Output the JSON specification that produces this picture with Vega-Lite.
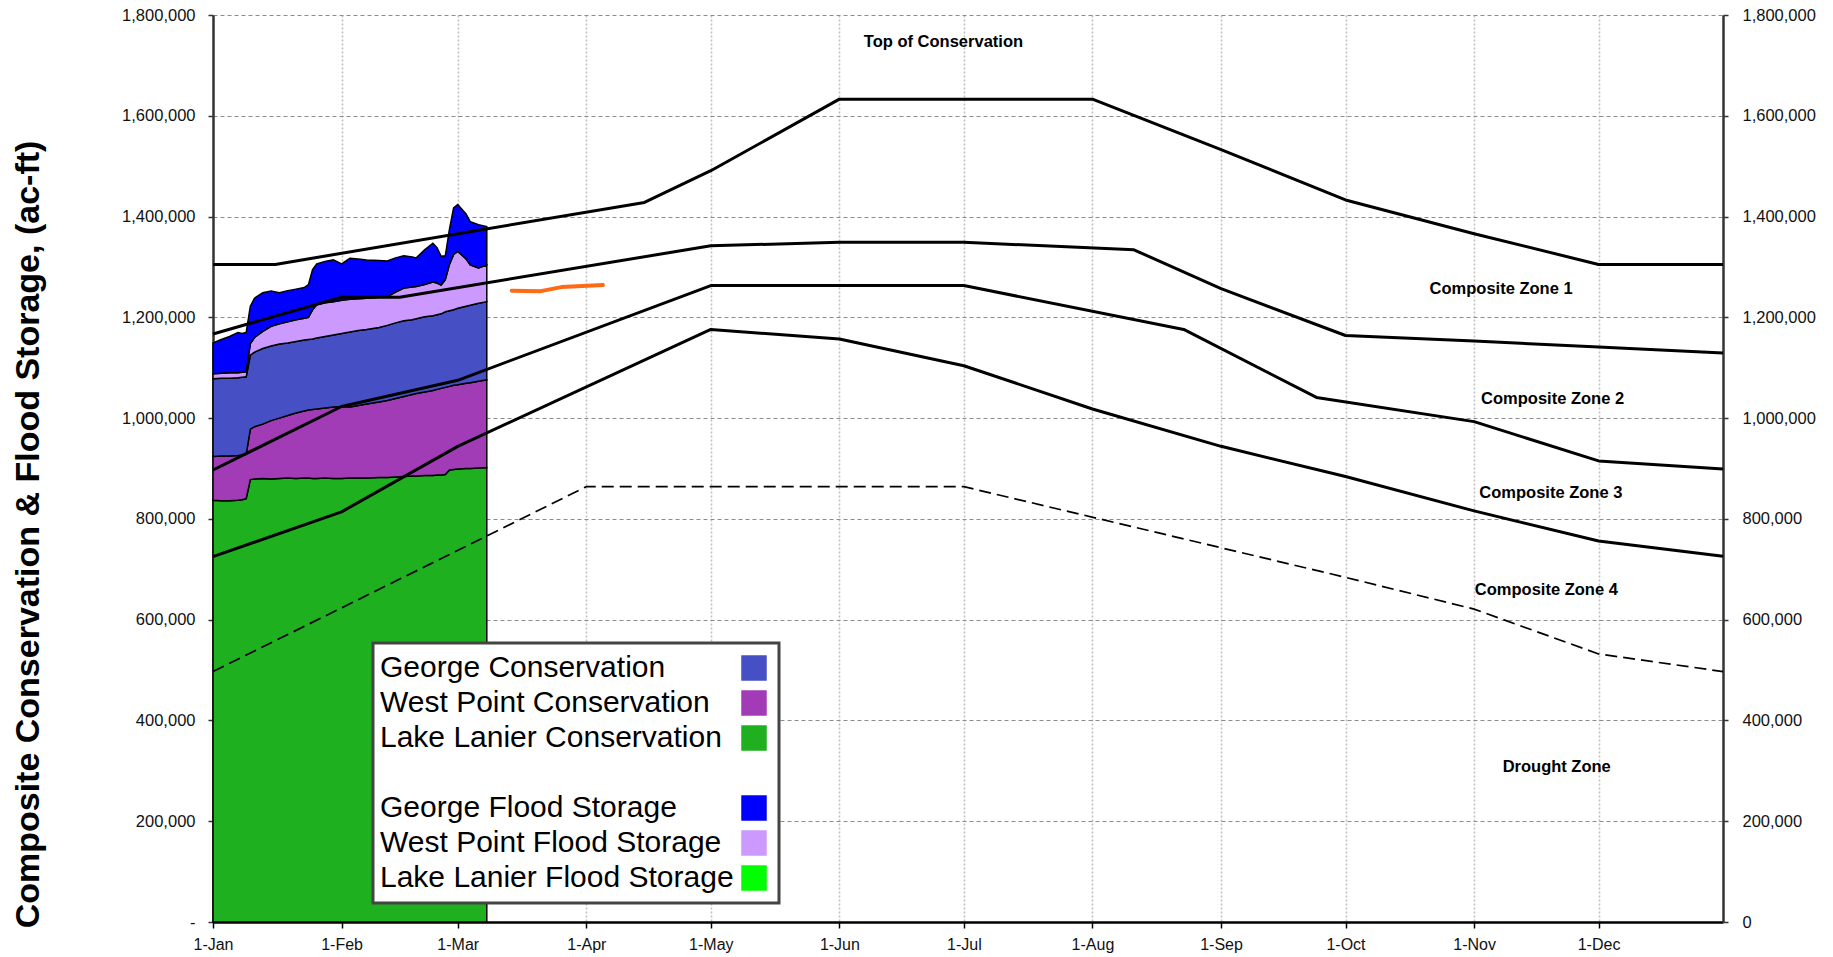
{
  "$schema": "https://vega.github.io/schema/vega-lite/v6.json",
  "width": 1510,
  "height": 907,
  "autosize": {"type": "none"},
  "padding": {"left": 213, "top": 15, "right": 110, "bottom": 35},
  "background": "white",
  "config": {
    "view": {"stroke": null},
    "font": "Liberation Sans"
  },
  "datasets": {
    "stackOrder": [
      {"series": "Lake Lanier Conservation", "rank": 1},
      {"series": "West Point Conservation", "rank": 2},
      {"series": "George Conservation", "rank": 3},
      {"series": "West Point Flood Storage", "rank": 4},
      {"series": "George Flood Storage", "rank": 5}
    ],
    "storage": [
      {"date": "2021-01-01", "Lake Lanier Conservation": 837000, "West Point Conservation": 87000, "George Conservation": 154000, "West Point Flood Storage": 10000, "George Flood Storage": 61000},
      {"date": "2021-01-03", "Lake Lanier Conservation": 836000, "West Point Conservation": 89000, "George Conservation": 154000, "West Point Flood Storage": 10000, "George Flood Storage": 67000},
      {"date": "2021-01-05", "Lake Lanier Conservation": 836000, "West Point Conservation": 89000, "George Conservation": 154000, "West Point Flood Storage": 11000, "George Flood Storage": 72000},
      {"date": "2021-01-07", "Lake Lanier Conservation": 837000, "West Point Conservation": 89000, "George Conservation": 154000, "West Point Flood Storage": 10000, "George Flood Storage": 80000},
      {"date": "2021-01-08", "Lake Lanier Conservation": 838000, "West Point Conservation": 89000, "George Conservation": 154000, "West Point Flood Storage": 10000, "George Flood Storage": 77000},
      {"date": "2021-01-09", "Lake Lanier Conservation": 840000, "West Point Conservation": 88000, "George Conservation": 154000, "West Point Flood Storage": 10000, "George Flood Storage": 78000},
      {"date": "2021-01-10", "Lake Lanier Conservation": 878000, "West Point Conservation": 100000, "George Conservation": 147000, "West Point Flood Storage": 23000, "George Flood Storage": 74000},
      {"date": "2021-01-11", "Lake Lanier Conservation": 879000, "West Point Conservation": 104000, "George Conservation": 148000, "West Point Flood Storage": 29000, "George Flood Storage": 78000},
      {"date": "2021-01-13", "Lake Lanier Conservation": 880000, "West Point Conservation": 108000, "George Conservation": 150000, "West Point Flood Storage": 34000, "George Flood Storage": 77000},
      {"date": "2021-01-15", "Lake Lanier Conservation": 879000, "West Point Conservation": 116000, "George Conservation": 148000, "West Point Flood Storage": 39000, "George Flood Storage": 70000},
      {"date": "2021-01-17", "Lake Lanier Conservation": 880000, "West Point Conservation": 120000, "George Conservation": 147000, "West Point Flood Storage": 40000, "George Flood Storage": 62000},
      {"date": "2021-01-19", "Lake Lanier Conservation": 881000, "West Point Conservation": 124000, "George Conservation": 144000, "West Point Flood Storage": 42000, "George Flood Storage": 62000},
      {"date": "2021-01-21", "Lake Lanier Conservation": 880000, "West Point Conservation": 130000, "George Conservation": 142000, "West Point Flood Storage": 43000, "George Flood Storage": 61000},
      {"date": "2021-01-23", "Lake Lanier Conservation": 881000, "West Point Conservation": 133000, "George Conservation": 141000, "West Point Flood Storage": 43000, "George Flood Storage": 61000},
      {"date": "2021-01-24", "Lake Lanier Conservation": 881000, "West Point Conservation": 135000, "George Conservation": 140000, "West Point Flood Storage": 44000, "George Flood Storage": 65000},
      {"date": "2021-01-25", "Lake Lanier Conservation": 880000, "West Point Conservation": 137000, "George Conservation": 140000, "West Point Flood Storage": 58000, "George Flood Storage": 80000},
      {"date": "2021-01-26", "Lake Lanier Conservation": 880000, "West Point Conservation": 138000, "George Conservation": 141000, "West Point Flood Storage": 66000, "George Flood Storage": 81000},
      {"date": "2021-01-28", "Lake Lanier Conservation": 881000, "West Point Conservation": 139000, "George Conservation": 142000, "West Point Flood Storage": 67000, "George Flood Storage": 82000},
      {"date": "2021-01-30", "Lake Lanier Conservation": 880000, "West Point Conservation": 142000, "George Conservation": 143000, "West Point Flood Storage": 66000, "George Flood Storage": 83000},
      {"date": "2021-02-01", "Lake Lanier Conservation": 880000, "West Point Conservation": 143000, "George Conservation": 145000, "West Point Flood Storage": 66000, "George Flood Storage": 72000},
      {"date": "2021-02-03", "Lake Lanier Conservation": 881000, "West Point Conservation": 141000, "George Conservation": 149000, "West Point Flood Storage": 65000, "George Flood Storage": 81000},
      {"date": "2021-02-05", "Lake Lanier Conservation": 881000, "West Point Conservation": 144000, "George Conservation": 149000, "West Point Flood Storage": 63000, "George Flood Storage": 79000},
      {"date": "2021-02-07", "Lake Lanier Conservation": 881000, "West Point Conservation": 147000, "George Conservation": 148000, "West Point Flood Storage": 62000, "George Flood Storage": 76000},
      {"date": "2021-02-10", "Lake Lanier Conservation": 882000, "West Point Conservation": 150000, "George Conservation": 148000, "West Point Flood Storage": 60000, "George Flood Storage": 73000},
      {"date": "2021-02-12", "Lake Lanier Conservation": 882000, "West Point Conservation": 153000, "George Conservation": 149000, "West Point Flood Storage": 57000, "George Flood Storage": 71000},
      {"date": "2021-02-14", "Lake Lanier Conservation": 883000, "West Point Conservation": 156000, "George Conservation": 150000, "West Point Flood Storage": 61000, "George Flood Storage": 68000},
      {"date": "2021-02-16", "Lake Lanier Conservation": 884000, "West Point Conservation": 159000, "George Conservation": 150000, "West Point Flood Storage": 65000, "George Flood Storage": 64000},
      {"date": "2021-02-18", "Lake Lanier Conservation": 885000, "West Point Conservation": 162000, "George Conservation": 148000, "West Point Flood Storage": 65000, "George Flood Storage": 60000},
      {"date": "2021-02-19", "Lake Lanier Conservation": 885000, "West Point Conservation": 164000, "George Conservation": 148000, "West Point Flood Storage": 64000, "George Flood Storage": 57000},
      {"date": "2021-02-21", "Lake Lanier Conservation": 886000, "West Point Conservation": 166000, "George Conservation": 149000, "West Point Flood Storage": 64000, "George Flood Storage": 69000},
      {"date": "2021-02-23", "Lake Lanier Conservation": 886000, "West Point Conservation": 169000, "George Conservation": 148000, "West Point Flood Storage": 67000, "George Flood Storage": 77000},
      {"date": "2021-02-24", "Lake Lanier Conservation": 887000, "West Point Conservation": 170000, "George Conservation": 148000, "West Point Flood Storage": 63000, "George Flood Storage": 70000},
      {"date": "2021-02-25", "Lake Lanier Conservation": 887000, "West Point Conservation": 172000, "George Conservation": 148000, "West Point Flood Storage": 57000, "George Flood Storage": 57000},
      {"date": "2021-02-26", "Lake Lanier Conservation": 888000, "West Point Conservation": 173000, "George Conservation": 150000, "West Point Flood Storage": 64000, "George Flood Storage": 47000},
      {"date": "2021-02-27", "Lake Lanier Conservation": 897000, "West Point Conservation": 166000, "George Conservation": 150000, "West Point Flood Storage": 92000, "George Flood Storage": 70000},
      {"date": "2021-02-28", "Lake Lanier Conservation": 898000, "West Point Conservation": 167000, "George Conservation": 150000, "West Point Flood Storage": 110000, "George Flood Storage": 92000},
      {"date": "2021-03-01", "Lake Lanier Conservation": 899000, "West Point Conservation": 167000, "George Conservation": 152000, "West Point Flood Storage": 113000, "George Flood Storage": 93000},
      {"date": "2021-03-03", "Lake Lanier Conservation": 900000, "West Point Conservation": 169000, "George Conservation": 153000, "West Point Flood Storage": 94000, "George Flood Storage": 89000},
      {"date": "2021-03-04", "Lake Lanier Conservation": 900000, "West Point Conservation": 170000, "George Conservation": 154000, "West Point Flood Storage": 80000, "George Flood Storage": 86000},
      {"date": "2021-03-06", "Lake Lanier Conservation": 901000, "West Point Conservation": 172000, "George Conservation": 155000, "West Point Flood Storage": 70000, "George Flood Storage": 86000},
      {"date": "2021-03-08", "Lake Lanier Conservation": 902000, "West Point Conservation": 174000, "George Conservation": 155000, "West Point Flood Storage": 73000, "George Flood Storage": 76000}
    ],
    "curves": [
      {"curve": "Top of Conservation", "date": "2021-01-01", "value": 1305000},
      {"curve": "Top of Conservation", "date": "2021-01-16", "value": 1305000},
      {"curve": "Top of Conservation", "date": "2021-04-15", "value": 1428000},
      {"curve": "Top of Conservation", "date": "2021-05-01", "value": 1491000},
      {"curve": "Top of Conservation", "date": "2021-06-01", "value": 1633000},
      {"curve": "Top of Conservation", "date": "2021-08-01", "value": 1633000},
      {"curve": "Top of Conservation", "date": "2021-09-01", "value": 1533000},
      {"curve": "Top of Conservation", "date": "2021-10-01", "value": 1433000},
      {"curve": "Top of Conservation", "date": "2021-11-01", "value": 1366000},
      {"curve": "Top of Conservation", "date": "2021-12-01", "value": 1305000},
      {"curve": "Top of Conservation", "date": "2021-12-31", "value": 1305000},
      {"curve": "Composite Zone 1", "date": "2021-01-01", "value": 1167000},
      {"curve": "Composite Zone 1", "date": "2021-02-01", "value": 1240000},
      {"curve": "Composite Zone 1", "date": "2021-02-15", "value": 1240000},
      {"curve": "Composite Zone 1", "date": "2021-05-01", "value": 1342000},
      {"curve": "Composite Zone 1", "date": "2021-06-01", "value": 1349000},
      {"curve": "Composite Zone 1", "date": "2021-07-01", "value": 1349000},
      {"curve": "Composite Zone 1", "date": "2021-08-11", "value": 1334000},
      {"curve": "Composite Zone 1", "date": "2021-09-01", "value": 1257000},
      {"curve": "Composite Zone 1", "date": "2021-10-01", "value": 1164000},
      {"curve": "Composite Zone 1", "date": "2021-11-01", "value": 1153000},
      {"curve": "Composite Zone 1", "date": "2021-12-01", "value": 1141000},
      {"curve": "Composite Zone 1", "date": "2021-12-31", "value": 1129000},
      {"curve": "Composite Zone 2", "date": "2021-01-01", "value": 897000},
      {"curve": "Composite Zone 2", "date": "2021-02-01", "value": 1023000},
      {"curve": "Composite Zone 2", "date": "2021-03-01", "value": 1075000},
      {"curve": "Composite Zone 2", "date": "2021-05-01", "value": 1263000},
      {"curve": "Composite Zone 2", "date": "2021-07-01", "value": 1263000},
      {"curve": "Composite Zone 2", "date": "2021-08-23", "value": 1176000},
      {"curve": "Composite Zone 2", "date": "2021-09-24", "value": 1041000},
      {"curve": "Composite Zone 2", "date": "2021-11-01", "value": 993000},
      {"curve": "Composite Zone 2", "date": "2021-12-01", "value": 915000},
      {"curve": "Composite Zone 2", "date": "2021-12-31", "value": 899000},
      {"curve": "Composite Zone 3", "date": "2021-01-01", "value": 725000},
      {"curve": "Composite Zone 3", "date": "2021-02-01", "value": 814000},
      {"curve": "Composite Zone 3", "date": "2021-03-01", "value": 944000},
      {"curve": "Composite Zone 3", "date": "2021-05-01", "value": 1176000},
      {"curve": "Composite Zone 3", "date": "2021-06-01", "value": 1157000},
      {"curve": "Composite Zone 3", "date": "2021-07-01", "value": 1104000},
      {"curve": "Composite Zone 3", "date": "2021-08-01", "value": 1018000},
      {"curve": "Composite Zone 3", "date": "2021-09-01", "value": 944000},
      {"curve": "Composite Zone 3", "date": "2021-10-01", "value": 884000},
      {"curve": "Composite Zone 3", "date": "2021-11-01", "value": 816000},
      {"curve": "Composite Zone 3", "date": "2021-12-01", "value": 756000},
      {"curve": "Composite Zone 3", "date": "2021-12-31", "value": 726000},
      {"curve": "Composite Zone 4", "date": "2021-01-01", "value": 497000},
      {"curve": "Composite Zone 4", "date": "2021-04-01", "value": 864000},
      {"curve": "Composite Zone 4", "date": "2021-07-01", "value": 864000},
      {"curve": "Composite Zone 4", "date": "2021-10-01", "value": 684000},
      {"curve": "Composite Zone 4", "date": "2021-11-01", "value": 621000},
      {"curve": "Composite Zone 4", "date": "2021-12-01", "value": 532000},
      {"curve": "Composite Zone 4", "date": "2021-12-31", "value": 497000}
    ],
    "forecast": [
      {"date": "2021-03-14", "value": 1253000},
      {"date": "2021-03-21", "value": 1252000},
      {"date": "2021-03-26", "value": 1260000},
      {"date": "2021-04-05", "value": 1264000}
    ],
    "labels": [
      {"label": "Top of Conservation", "date": "2021-06-26T02:00:00Z", "value": 1746600},
      {"label": "Composite Zone 1", "date": "2021-11-07T12:00:00Z", "value": 1257000},
      {"label": "Composite Zone 2", "date": "2021-11-19T22:00:00Z", "value": 1037000},
      {"label": "Composite Zone 3", "date": "2021-11-19T12:00:00Z", "value": 851000},
      {"label": "Composite Zone 4", "date": "2021-11-18T10:00:00Z", "value": 659000},
      {"label": "Drought Zone", "date": "2021-11-20T22:00:00Z", "value": 308000}
    ]
  },
  "layer": [
    {
      "data": {"name": "storage"},
      "transform": [
        {"fold": ["Lake Lanier Conservation", "West Point Conservation", "George Conservation", "West Point Flood Storage", "George Flood Storage"], "as": ["series", "storage"]},
        {"lookup": "series", "from": {"data": {"name": "stackOrder"}, "key": "series", "fields": ["rank"]}}
      ],
      "mark": {"type": "area", "stroke": "#000000", "strokeWidth": 1.5, "opacity": 1, "fillOpacity": 1, "interpolate": "linear"},
      "encoding": {
        "x": {
          "field": "date", "type": "temporal",
          "scale": {"type": "utc", "domain": [{"year": 2021, "month": 1, "date": 1, "utc": true}, {"year": 2021, "month": 12, "date": 31, "utc": true}], "nice": false},
          "axis": {
            "orient": "bottom", "title": null,
            "tickCount": {"interval": "month", "step": 1},
            "labelExpr": "utcFormat(datum.value, '%-d-%b')",
            "labelFont": "Liberation Sans", "labelFontSize": 16, "labelColor": "#111111",
            "labelFlush": false, "labelOverlap": false, "labelPadding": 8,
            "tickSize": 6, "tickColor": "#000000", "tickWidth": 1.5,
            "domainColor": "#000000", "domainWidth": 2.5,
            "grid": true, "gridColor": "#bdbdbd", "gridDash": [2, 2], "gridWidth": 1.5
          }
        },
        "y": {
          "field": "storage", "type": "quantitative", "stack": "zero",
          "scale": {"domain": [0, 1800000], "nice": false, "zero": true},
          "axis": {
            "orient": "left",
            "title": "Composite Conservation & Flood Storage, (ac-ft)",
            "values": [0, 200000, 400000, 600000, 800000, 1000000, 1200000, 1400000, 1600000, 1800000],
            "labelExpr": "datum.value === 0 ? '-\u00a0\u00a0' : format(datum.value, ',.0f')",
            "labelFont": "Liberation Sans", "labelFontSize": 16.5, "labelColor": "#111111",
            "labelPadding": 13, "labelFlush": false, "labelOverlap": false,
            "tickSize": 5, "tickColor": "#333333", "tickWidth": 1.5,
            "domainColor": "#333333", "domainWidth": 2.5,
            "grid": true, "gridColor": "#8c8c8c", "gridDash": [4, 3], "gridWidth": 1,
            "titleFont": "Liberation Sans", "titleFontSize": 34, "titleFontWeight": "bold", "titleColor": "#000000",
            "titleAngle": 270, "titleX": -175, "titleY": 519, "titleAlign": "center", "titleBaseline": "alphabetic"
          }
        },
        "color": {
          "field": "series", "type": "nominal",
          "scale": {
            "domain": ["George Conservation", "West Point Conservation", "Lake Lanier Conservation", " ", "George Flood Storage", "West Point Flood Storage", "Lake Lanier Flood Storage"],
            "range": ["#4650c4", "#a23cb6", "#1fb01f", "#ffffff", "#0000ff", "#cc99ff", "#00ff00"]
          },
          "legend": {
            "title": null, "orient": "none", "legendX": 160, "legendY": 628, "direction": "vertical",
            "symbolType": "square", "symbolSize": 650, "symbolStrokeColor": "#333333", "symbolStrokeWidth": 1, "symbolOpacity": 1,
            "symbolOffset": 356, "labelOffset": -389,
            "labelFont": "Liberation Sans", "labelFontSize": 30, "labelColor": "#000000", "labelLimit": 420,
            "rowPadding": 5, "padding": 10,
            "fillColor": "#ffffff", "strokeColor": "#444444",
            "encode": {
              "legend": {"update": {"strokeWidth": {"value": 3}}},
              "symbols": {"update": {
                "strokeOpacity": {"signal": "datum.value === ' ' ? 0 : 1"},
                "fill": {"signal": "datum.value === 'George Conservation' ? '#6a6cf2' : datum.value === 'West Point Conservation' ? '#b464c6' : datum.value === 'Lake Lanier Conservation' ? '#7ee67e' : datum.value === 'George Flood Storage' ? '#0000ff' : datum.value === 'West Point Flood Storage' ? '#cc99ff' : datum.value === 'Lake Lanier Flood Storage' ? '#00ff00' : '#ffffff'"}
              }}
            }
          }
        },
        "order": {"field": "rank", "type": "quantitative", "sort": "ascending"}
      }
    },
    {
      "data": {"name": "curves"},
      "transform": [{"filter": "datum.curve !== 'Composite Zone 4'"}],
      "mark": {"type": "line", "color": "#000000", "strokeWidth": 3, "strokeJoin": "round"},
      "encoding": {
        "x": {"field": "date", "type": "temporal", "axis": null},
        "y": {
          "field": "value", "type": "quantitative",
          "axis": {
            "orient": "right", "title": null,
            "values": [0, 200000, 400000, 600000, 800000, 1000000, 1200000, 1400000, 1600000, 1800000],
            "labelExpr": "format(datum.value, ',.0f')",
            "labelFont": "Liberation Sans", "labelFontSize": 16.5, "labelColor": "#111111",
            "labelPadding": 14, "labelFlush": false, "labelOverlap": false,
            "tickSize": 5, "tickColor": "#333333", "tickWidth": 1.5,
            "domainColor": "#333333", "domainWidth": 2.5,
            "grid": false
          }
        },
        "detail": {"field": "curve", "type": "nominal"}
      }
    },
    {
      "data": {"name": "curves"},
      "transform": [{"filter": "datum.curve === 'Composite Zone 4'"}],
      "mark": {"type": "line", "color": "#000000", "strokeWidth": 1.7, "strokeDash": [12, 6]},
      "encoding": {
        "x": {"field": "date", "type": "temporal", "axis": null},
        "y": {"field": "value", "type": "quantitative", "axis": null}
      }
    },
    {
      "data": {"name": "forecast"},
      "mark": {"type": "line", "color": "#ff6a13", "strokeWidth": 4, "strokeCap": "round", "strokeJoin": "round"},
      "encoding": {
        "x": {"field": "date", "type": "temporal", "axis": null},
        "y": {"field": "value", "type": "quantitative", "axis": null}
      }
    },
    {
      "data": {"name": "labels"},
      "mark": {"type": "text", "font": "Liberation Sans", "fontWeight": "bold", "fontSize": 16.5, "align": "center", "baseline": "middle", "color": "#000000"},
      "encoding": {
        "x": {"field": "date", "type": "temporal", "axis": null},
        "y": {"field": "value", "type": "quantitative", "axis": null},
        "text": {"field": "label", "type": "nominal"}
      }
    }
  ],
  "resolve": {"axis": {"x": "independent", "y": "independent"}}
}
